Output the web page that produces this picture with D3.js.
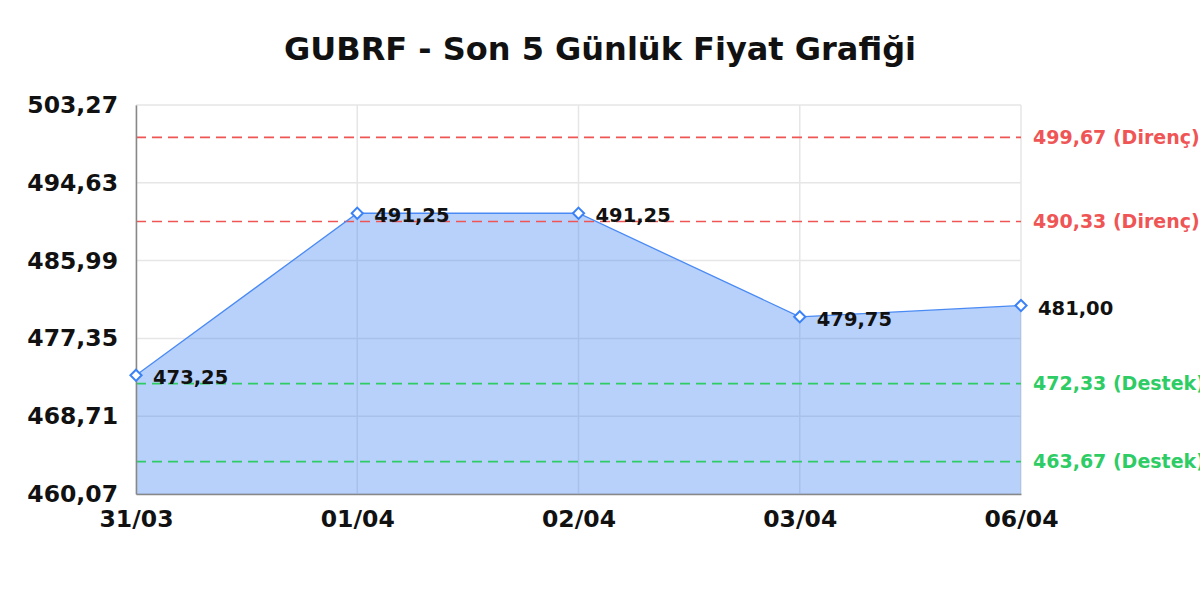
<!DOCTYPE html>
<html lang="tr">
<head>
  <meta charset="UTF-8">
  <script src="https://cdnjs.cloudflare.com/ajax/libs/d3/7.8.5/d3.min.js"></script>
  <style>
    body { margin: 0; background: #fff; font-family: 'DejaVu Sans', sans-serif; }
    svg text { font-family: 'DejaVu Sans', sans-serif; font-weight: bold; }
  </style>
</head>
<body>
<div id="chart"></div>
<script>
  // data
  const dates = ["31/03", "01/04", "02/04", "03/04", "06/04"];
  const prices = [473.25, 491.25, 491.25, 479.75, 481.00];
  const yTicks = [460.07, 468.71, 477.35, 485.99, 494.63, 503.27];
  const levelValues = [499.67, 490.33, 472.33, 463.67];
  const levelKinds = ["Direnç", "Direnç", "Destek", "Destek"];

  const W = 1200, H = 600;
  const margin = { top: 105, right: 179, bottom: 106, left: 136 };
  const width = W - margin.left - margin.right,
    height = H - margin.top - margin.bottom;

  const fmt = v => v.toFixed(2).replace(".", ",");

  const svg = d3.select("#chart").append("svg")
    .attr("width", W).attr("height", H);

  svg.append("text")
    .attr("x", W / 2).attr("y", 60)
    .attr("text-anchor", "middle")
    .attr("font-size", 32)
    .attr("fill", "#111")
    .text("GUBRF - Son 5 Günlük Fiyat Grafiği");

  const g = svg.append("g")
    .attr("transform", "translate(" + margin.left + "," + margin.top + ")");

  const x = d3.scalePoint().domain(dates).range([0, width]);
  const y = d3.scaleLinear().domain([yTicks[0], yTicks[yTicks.length - 1]]).range([height, 0]);

  // grid
  g.append("g").selectAll("line").data(yTicks).join("line")
    .attr("x1", 0).attr("x2", width)
    .attr("y1", d => y(d)).attr("y2", d => y(d))
    .attr("stroke", "#e6e6e6").attr("stroke-width", 1.5);
  g.append("g").selectAll("line").data(dates).join("line")
    .attr("x1", d => x(d)).attr("x2", d => x(d))
    .attr("y1", 0).attr("y2", height)
    .attr("stroke", "#e6e6e6").attr("stroke-width", 1.5);

  const pts = dates.map((d, i) => ({ date: d, value: prices[i] }));

  // area
  g.append("path")
    .datum(pts)
    .attr("fill", "#4285f4")
    .attr("fill-opacity", 0.38)
    .attr("d", d3.area()
      .x(d => x(d.date))
      .y0(height)
      .y1(d => y(d.value)));

  // support / resistance lines
  const levels = levelValues.map((v, i) => ({ v: v, kind: levelKinds[i] }));
  const levelColor = d => d.kind === "Direnç" ? "#ef5555" : "#2ecc64";
  g.append("g").selectAll("line").data(levels).join("line")
    .attr("x1", 0).attr("x2", width)
    .attr("y1", d => y(d.v)).attr("y2", d => y(d.v))
    .attr("stroke", levelColor)
    .attr("stroke-width", 1.6)
    .attr("stroke-dasharray", "10,6");
  g.append("g").selectAll("text").data(levels).join("text")
    .attr("x", width + 12).attr("y", d => y(d.v))
    .attr("dy", "0.36em")
    .attr("font-size", 19)
    .attr("fill", levelColor)
    .text(d => fmt(d.v) + " (" + d.kind + ")");

  // line
  g.append("path")
    .datum(pts)
    .attr("fill", "none")
    .attr("stroke", "#4a8af4")
    .attr("stroke-width", 1.3)
    .attr("d", d3.line().x(d => x(d.date)).y(d => y(d.value)));

  // axes
  const yAxis = g.append("g").call(d3.axisLeft(y).tickValues(yTicks).tickSize(0).tickPadding(18).tickFormat(fmt));
  yAxis.select(".domain").attr("stroke", "#888").attr("stroke-width", 1.5);
  yAxis.selectAll("text").attr("font-size", 23.5).attr("fill", "#111");

  const xAxis = g.append("g").attr("transform", "translate(0," + height + ")")
    .call(d3.axisBottom(x).tickSize(0).tickPadding(16));
  xAxis.select(".domain").attr("stroke", "#888").attr("stroke-width", 1.5);
  xAxis.selectAll("text").attr("font-size", 23.5).attr("fill", "#111");

  // markers
  g.append("g").selectAll("path").data(pts).join("path")
    .attr("transform", d => "translate(" + x(d.date) + "," + y(d.value) + ")")
    .attr("d", d3.symbol(d3.symbolDiamond2, 80))
    .attr("fill", "#fff")
    .attr("stroke", "#3b82f6")
    .attr("stroke-width", 2);

  g.append("g").selectAll("text").data(pts).join("text")
    .attr("x", d => x(d.date) + 17)
    .attr("y", d => y(d.value) + 2)
    .attr("dy", "0.36em")
    .attr("font-size", 19.5)
    .attr("fill", "#111")
    .text(d => fmt(d.value));
</script>
</body>
</html>
